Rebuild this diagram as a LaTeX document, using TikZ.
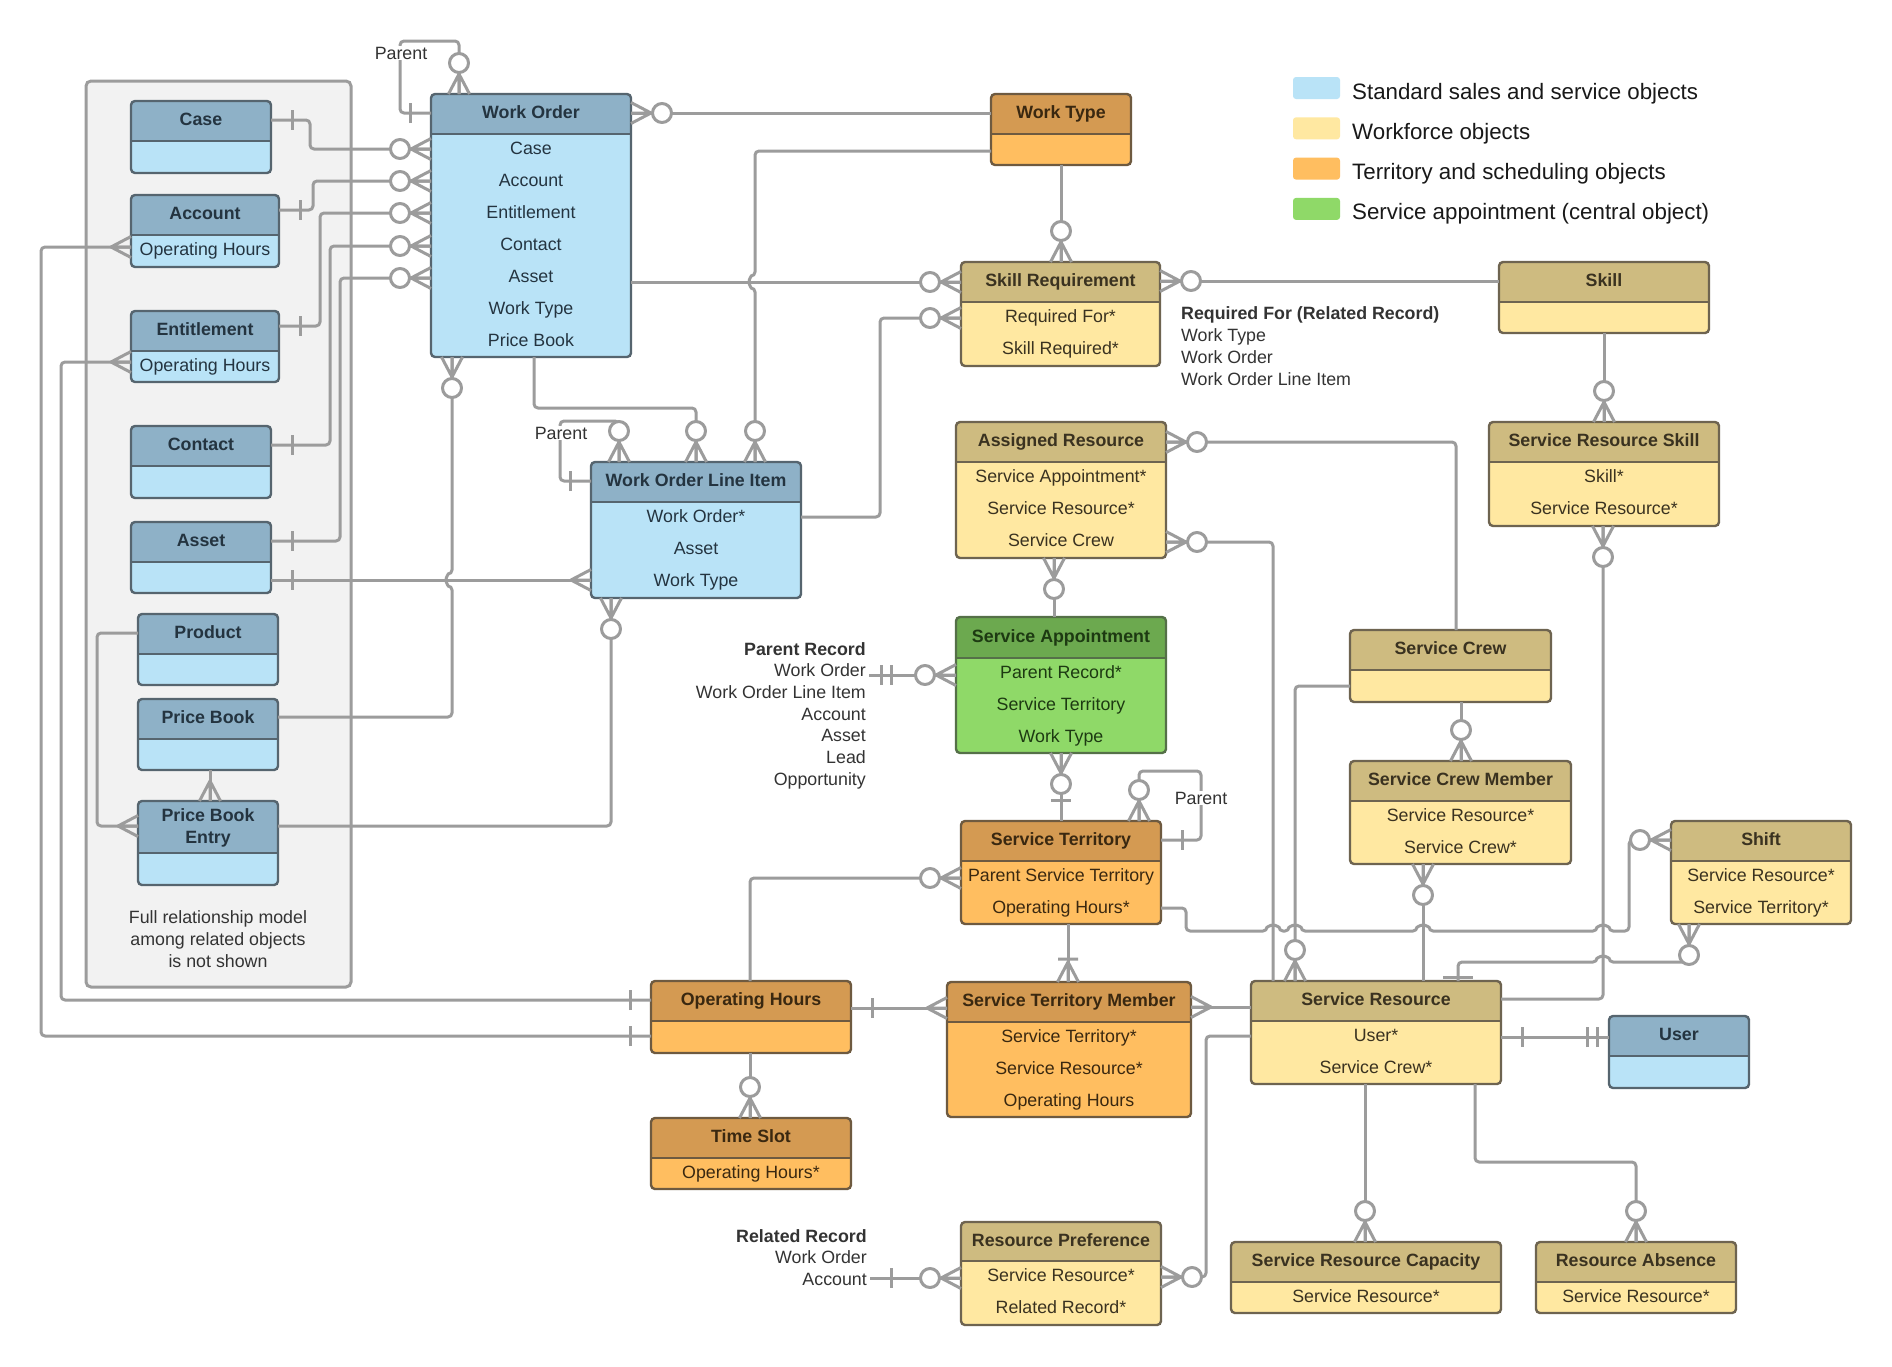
\documentclass[tikz,border=0pt]{standalone}
\usepackage{fontspec}
\setmainfont{Liberation Sans}
\usetikzlibrary{fit}

\definecolor{stdhead}{HTML}{8EB1C7}
\definecolor{stdbody}{HTML}{B9E3F7}
\definecolor{stdline}{HTML}{56656F}
\definecolor{stdtxt}{HTML}{243440}
\definecolor{wfhead}{HTML}{CEBB80}
\definecolor{wfbody}{HTML}{FFE8A1}
\definecolor{wfline}{HTML}{6E6450}
\definecolor{wftxt}{HTML}{3A3220}
\definecolor{terrhead}{HTML}{D49A52}
\definecolor{terrbody}{HTML}{FFBE60}
\definecolor{terrline}{HTML}{6E5A40}
\definecolor{terrtxt}{HTML}{3A2810}
\definecolor{sahead}{HTML}{6CA94F}
\definecolor{sabody}{HTML}{8FD968}
\definecolor{saline}{HTML}{557048}
\definecolor{satxt}{HTML}{1D3A12}
\definecolor{wire}{HTML}{9C9C9C}
\definecolor{grp}{HTML}{F2F2F2}
\definecolor{labeltxt}{HTML}{333333}

\tikzset{
	conn/.style={draw=wire, line width=3pt, rounded corners=4pt, line join=round},
	boxline/.style={line width=2.4pt},
	ttl/.style={anchor=base, font=\bfseries\fontsize{17.8}{21.7}\selectfont},
	rowtxt/.style={anchor=base, font=\fontsize{17.8}{21.7}\selectfont},
	lbl/.style={font=\fontsize{17.8}{21.7}\selectfont, text=labeltxt, inner sep=3pt},
	lblb/.style={lbl, font=\bfseries\fontsize{17.8}{21.7}\selectfont},
	leg/.style={font=\fontsize{22.3}{26}\selectfont, text=black!90, inner sep=3pt},
	crow/.pic={\draw[conn, rounded corners=0pt] (0,-10.5) -- (20,0) -- (0,10.5) (0,0) -- (20,0);},
	zcrow/.pic={\draw[conn, rounded corners=0pt] (0,-10.5) -- (20,0) -- (0,10.5) (0,0) -- (20,0);
		\draw[conn, fill=white] (31,0) circle (9.5);},
	tick/.pic={\draw[conn] (21,-10) -- (21,10);},
	dtick/.pic={\draw[conn] (12,-10) -- (12,10) (22,-10) -- (22,10);},
	tcrow/.pic={\draw[conn, rounded corners=0pt] (0,-10.5) -- (20,0) -- (0,10.5) (0,0) -- (20,0) (23,-10) -- (23,10);},
}

% id, x1, y1, x2, header bottom, y2, kind, title, rows
\newcommand{\entity}[9]{%
	\begin{scope}
		\clip[rounded corners=4pt] (#2,#3) rectangle (#4,#6);
		\fill[#7body] (#2,#3) rectangle (#4,#6);
		\fill[#7head] (#2,#3) rectangle (#4,#5);
	\end{scope}
	\draw[boxline, #7line] (#2,#5) -- (#4,#5);
	\draw[boxline, #7line, rounded corners=4pt] (#2,#3) rectangle (#4,#6);
	\node[fit={(#2,#3) (#4,#6)}, inner sep=0pt, outer sep=0pt] (#1) {};
	\node[ttl, text=#7txt] (#1-t) at ({(#2+#4)/2},{(#3+#5)/2+4.5}) {#8};
	\foreach \rowtext [count=\i] in {#9}
		\node[rowtxt, text=#7txt] (#1-\i) at ({(#2+#4)/2},{#5+20+32*(\i-1)}) {\rowtext};
}

\begin{document}
\begin{tikzpicture}[x=1pt,y=-1pt]
			%%%%% START %%%%%
			\fill[white] (0,0) rectangle (1892,1366);
			\useasboundingbox (0,0) rectangle (1892,1366);
			
			\draw[draw=wire, fill=grp, line width=3pt, rounded corners=5pt] (86,81) rectangle (351,987);
			
			%%%%% STANDARD OBJECTS %%%%%
			\entity{case}{131}{101}{271}{141}{173}{std}{Case}{}
			\entity{account}{131}{195}{279}{235}{267}{std}{Account}{Operating Hours}
			\entity{entitlement}{131}{311}{279}{351}{382}{std}{Entitlement}{Operating Hours}
			\entity{contact}{131}{426}{271}{466}{498}{std}{Contact}{}
			\entity{asset}{131}{522}{271}{562}{593}{std}{Asset}{}
			\entity{product}{138}{614}{278}{654}{685}{std}{Product}{}
			\entity{pricebook}{138}{699}{278}{739}{770}{std}{Price Book}{}
			\entity{pbe}{138}{801}{278}{853}{885}{std}{}{}
			\node[ttl, text=stdtxt] (pbe-ta) at (208,821) {Price Book};
			\node[ttl, text=stdtxt] (pbe-tb) at (208,843) {Entry};
			\entity{wo}{431}{94}{631}{134}{357}{std}{Work Order}{Case,Account,Entitlement,Contact,Asset,Work Type,Price Book}
			\entity{woli}{591}{462}{801}{502}{598}{std}{Work Order Line Item}{Work Order*,Asset,Work Type}
			\entity{user}{1609}{1016}{1749}{1056}{1088}{std}{User}{}
			
			%%%%% TERRITORY AND SCHEDULING %%%%%
			\entity{worktype}{991}{94}{1131}{134}{165}{terr}{Work Type}{}
			\entity{st}{961}{821}{1161}{861}{924}{terr}{Service Territory}{Parent Service Territory,Operating Hours*}
			\entity{oh}{651}{981}{851}{1021}{1053}{terr}{Operating Hours}{}
			\entity{stm}{947}{982}{1191}{1022}{1117}{terr}{Service Territory Member}{Service Territory*,Service Resource*,Operating Hours}
			\entity{timeslot}{651}{1118}{851}{1158}{1189}{terr}{Time Slot}{Operating Hours*}
			
			%%%%% WORKFORCE %%%%%
			\entity{skillreq}{961}{262}{1160}{302}{366}{wf}{Skill Requirement}{Required For*,Skill Required*}
			\entity{skill}{1499}{262}{1709}{302}{333}{wf}{Skill}{}
			\entity{srs}{1489}{422}{1719}{462}{526}{wf}{Service Resource Skill}{Skill*,Service Resource*}
			\entity{ar}{956}{422}{1166}{462}{558}{wf}{Assigned Resource}{Service Appointment*,Service Resource*,Service Crew}
			\entity{sc}{1350}{630}{1551}{670}{702}{wf}{Service Crew}{}
			\entity{scm}{1350}{761}{1571}{801}{864}{wf}{Service Crew Member}{Service Resource*,Service Crew*}
			\entity{shift}{1671}{821}{1851}{861}{924}{wf}{Shift}{Service Resource*,Service Territory*}
			\entity{sr}{1251}{981}{1501}{1021}{1084}{wf}{Service Resource}{User*,Service Crew*}
			\entity{rp}{961}{1222}{1161}{1261}{1325}{wf}{Resource Preference}{Service Resource*,Related Record*}
			\entity{src}{1231}{1242}{1501}{1282}{1313}{wf}{Service Resource Capacity}{Service Resource*}
			\entity{ra}{1536}{1242}{1736}{1282}{1313}{wf}{Resource Absence}{Service Resource*}
			
			%%%%% CENTRAL OBJECT %%%%%
			\entity{sa}{956}{617}{1166}{658}{753}{sa}{Service Appointment}{Parent Record*,Service Territory,Work Type}
			
			%%%%% TEXT BLOCKS %%%%%
			\node[lblb, anchor=base east] (pr-0) at (869,655) {Parent Record};
			\foreach \t [count=\i] in {Work Order,Work Order Line Item,Account,Asset,Lead,Opportunity}
				\node[lbl, anchor=base east] (pr-\i) at (869,{655+21.7*\i}) {\t};
			\node[lblb, anchor=base east] (rr-0) at (870,1242) {Related Record};
			\foreach \t [count=\i] in {Work Order,Account}
				\node[lbl, anchor=base east] (rr-\i) at (870,{1242+21.7*\i}) {\t};
			\node[lblb, anchor=base west] (rf-0) at (1178,319) {Required For (Related Record)};
			\foreach \t [count=\i] in {Work Type,Work Order,Work Order Line Item}
				\node[lbl, anchor=base west] (rf-\i) at (1178,{319+22*\i}) {\t};
			\foreach \t [count=\i] in {Full relationship model,among related objects,is not shown}
				\node[lbl, anchor=base] (note-\i) at (218,{901+22*\i}) {\t};
			
			%%%%% LEGEND %%%%%
			\foreach \c/\t [count=\i] in {stdbody/Standard sales and service objects,wfbody/Workforce objects,terrbody/Territory and scheduling objects,sabody/Service appointment (central object)}{
				\fill[\c, rounded corners=3pt] (1293,{36.7+40.3*\i}) rectangle (1340,{58.7+40.3*\i});
				\node[leg, anchor=base west] (leg-\i) at (1349,{58.7+40.3*\i}) {\t};
			}
			
			%%%%% CONNECTORS LEFT %%%%%
			\draw[conn] (case.east |- 0,120) -- (310,120) -- (310,149) -- (wo.west |- 0,149);
			\draw[conn] (account.east |- 0,210) -- (313,210) -- (313,181) -- (wo.west |- 0,181);
			\draw[conn] (entitlement.east |- 0,326) -- (320,326) -- (320,213) -- (wo.west |- 0,213);
			\draw[conn] (contact.east |- 0,445) -- (330,445) -- (330,246) -- (wo.west |- 0,246);
			\draw[conn] (asset.east |- 0,541) -- (340,541) -- (340,278) -- (wo.west |- 0,278);
			\draw[conn] (wo.west |- 0,113) -- (400,113) -- (400,41) -- (459,41) -- (wo.north -| 459,0);
			\draw[conn] (wo.east |- 0,113) -- (worktype.west |- 0,113);
			\draw[conn] (worktype.west |- 0,151) -- (755,151) -- (755,276) arc (270:90:6) -- (woli.north -| 755,0);
			\draw[conn] (wo.east |- 0,282) -- (skillreq.west |- 0,282);
			\draw[conn] (wo.south -| 534,0) -- (534,408) -- (696,408) -- (woli.north -| 696,0);
			\draw[conn] (woli.west |- 0,481) -- (560,481) -- (560,421) -- (619,421) -- (woli.north -| 619,0);
			\draw[conn] (pricebook.east |- 0,717) -- (452,717) -- (452,586) arc (90:270:6) -- (wo.south -| 452,0);
			\draw[conn] (asset.east |- 0,580) -- (woli.west |- 0,580);
			\draw[conn] (woli.east |- 0,517) -- (880,517) -- (880,318) -- (skillreq.west |- 0,318);
			\draw[conn] (pbe.east |- 0,826) -- (611,826) -- (woli.south -| 611,0);
			\draw[conn] (product.west |- 0,633) -- (97,633) -- (97,826) -- (pbe.west |- 0,826);
			\draw[conn] (pbe.north -| 210,0) -- (pricebook.south -| 210,0);
			\draw[conn] (account.west |- 0,247) -- (41,247) -- (41,1036) -- (oh.west |- 0,1036);
			\draw[conn] (entitlement.west |- 0,362) -- (61,362) -- (61,1000) -- (oh.west |- 0,1000);
			
			%%%%% CONNECTORS RIGHT %%%%%
			\draw[conn] (worktype.south) -- (skillreq.north -| worktype.south);
			\draw[conn] (skillreq.east |- 0,281) -- (skill.west |- 0,281);
			\draw[conn] (skill.south) -- (srs.north);
			\draw[conn] (ar.east |- 0,442) -- (1456,442) -- (sc.north -| 1456,0);
			\draw[conn] (ar.east |- 0,542) -- (1273,542) -- (sr.north -| 1273,0);
			\draw[conn] (ar.south -| 1054,0) -- (sa.north -| 1054,0);
			\draw[conn] (pr-1.east |- 0,675) -- (sa.west |- 0,675);
			\draw[conn] (sa.south -| 1061,0) -- (st.north -| 1061,0);
			\draw[conn] (st.east |- 0,840) -- (1201,840) -- (1201,771) -- (1139,771) -- (st.north -| 1139,0);
			\draw[conn] (oh.north -| 750,0) -- (750,878) -- (st.west |- 0,878);
			\draw[conn] (oh.south -| 750,0) -- (timeslot.north -| 750,0);
			\draw[conn] (oh.east |- 0,1008) -- (stm.west |- 0,1008);
			\draw[conn] (st.south -| 1068,0) -- (stm.north -| 1068,0);
			\draw[conn] (stm.east |- 0,1007) -- (sr.west |- 0,1007);
			\draw[conn] (sr.west |- 0,1036) -- (1206,1036) -- (1206,1277) -- (rp.east |- 0,1277);
			\draw[conn] (rr-2.east |- 0,1278) -- (rp.west |- 0,1278);
			\draw[conn] (sr.south -| 1365,0) -- (src.north -| 1365,0);
			\draw[conn] (sr.south -| 1475,0) -- (1475,1162) -- (1636,1162) -- (ra.north);
			\draw[conn] (sr.east |- 0,1037) -- (user.west |- 0,1037);
			\draw[conn] (sr.east |- 0,999) -- (1603,999) -- (srs.south -| 1603,0);
			\draw[conn] (sc.south -| 1461,0) -- (scm.north -| 1461,0);
			\draw[conn] (scm.south -| 1423,0) -- (sr.north -| 1423,0);
			\draw[conn] (sc.west |- 0,686) -- (1295,686) -- (sr.north -| 1295,0);
			\draw[conn] (st.east |- 0,908) -- (1186,908) -- (1186,931) -- (1267,931) arc (180:360:6) -- (1289,931) arc (180:360:6)
				-- (1417,931) arc (180:360:6) -- (1597,931) arc (180:360:6) -- (1629,931) -- (1629,840) -- (shift.west |- 0,840);
			\draw[conn] (shift.south -| 1689,0) -- (1689,962) -- (1609,962) arc (0:-180:6) -- (1458,962) -- (sr.north -| 1458,0);
			
			%%%%% ENDS %%%%%
			\foreach \y in {120,445,541,580} \pic at (0,\y -| case.east) {tick};
			\pic at (entitlement.east |- 0,326) {tick};
			\pic at (account.east |- 0,210) {tick};
			\foreach \y in {149,181,213,246,278} \pic[rotate=180] at (wo.west |- 0,\y) {zcrow};
			\pic[rotate=180] at (wo.west |- 0,113) {tick};
			\pic[rotate=90] at (wo.north -| 459,0) {zcrow};
			\pic at (wo.east |- 0,113) {zcrow};
			\pic[rotate=90] at (woli.north -| 755,0) {zcrow};
			\pic[rotate=180] at (skillreq.west |- 0,282) {zcrow};
			\pic[rotate=90] at (woli.north -| 696,0) {zcrow};
			\pic[rotate=180] at (woli.west |- 0,481) {tick};
			\pic[rotate=90] at (woli.north -| 619,0) {zcrow};
			\pic[rotate=-90] at (wo.south -| 452,0) {zcrow};
			\pic[rotate=180] at (woli.west |- 0,580) {crow};
			\pic[rotate=180] at (skillreq.west |- 0,318) {zcrow};
			\pic[rotate=-90] at (woli.south -| 611,0) {zcrow};
			\pic[rotate=180] at (pbe.west |- 0,826) {crow};
			\pic[rotate=90] at (pbe.north -| 210,0) {crow};
			\pic[rotate=180] at (account.west |- 0,247) {crow};
			\pic[rotate=180] at (entitlement.west |- 0,362) {crow};
			\pic[rotate=180] at (oh.west |- 0,1036) {tick};
			\pic[rotate=180] at (oh.west |- 0,1000) {tick};
			\pic[rotate=90] at (skillreq.north -| worktype.south) {zcrow};
			\pic at (skillreq.east |- 0,281) {zcrow};
			\pic[rotate=90] at (srs.north) {zcrow};
			\pic at (ar.east |- 0,442) {zcrow};
			\pic at (ar.east |- 0,542) {zcrow};
			\pic[rotate=-90] at (ar.south -| 1054,0) {zcrow};
			\pic at (pr-1.east |- 0,675) {dtick};
			\pic[rotate=180] at (sa.west |- 0,675) {zcrow};
			\pic[rotate=-90] at (sa.south -| 1061,0) {zcrow};
			\pic[rotate=90] at (st.north -| 1061,0) {tick};
			\pic at (st.east |- 0,840) {tick};
			\pic[rotate=90] at (st.north -| 1139,0) {zcrow};
			\pic[rotate=180] at (st.west |- 0,878) {zcrow};
			\pic[rotate=90] at (timeslot.north -| 750,0) {zcrow};
			\pic at (oh.east |- 0,1008) {tick};
			\pic[rotate=180] at (stm.west |- 0,1008) {crow};
			\pic[rotate=90] at (stm.north -| 1068,0) {tcrow};
			\pic at (stm.east |- 0,1007) {crow};
			\pic at (rp.east |- 0,1277) {zcrow};
			\pic at (rr-2.east |- 0,1278) {tick};
			\pic[rotate=180] at (rp.west |- 0,1278) {zcrow};
			\pic[rotate=90] at (src.north -| 1365,0) {zcrow};
			\pic[rotate=90] at (ra.north) {zcrow};
			\pic at (sr.east |- 0,1037) {tick};
			\pic[rotate=180] at (user.west |- 0,1037) {dtick};
			\pic[rotate=-90] at (srs.south -| 1603,0) {zcrow};
			\pic[rotate=90] at (scm.north -| 1461,0) {zcrow};
			\pic[rotate=-90] at (scm.south -| 1423,0) {zcrow};
			\pic[rotate=90] at (sr.north -| 1295,0) {zcrow};
			\pic[rotate=180] at (shift.west |- 0,840) {zcrow};
			\pic[rotate=-90] at (shift.south -| 1689,0) {zcrow};
			\draw[conn] (1443,977) -- (1473,977);
			
			%%%%% SELF LOOP LABELS %%%%%
			\node[lbl, fill=white, inner sep=1pt] (wo-par) at (401,53) {Parent};
			\node[lbl, fill=white, inner sep=1pt] (woli-par) at (561,433) {Parent};
			\node[lbl, fill=white, inner sep=1pt] (st-par) at (1201,798) {Parent};
			%%%%% END %%%%%
\end{tikzpicture}
\end{document}
